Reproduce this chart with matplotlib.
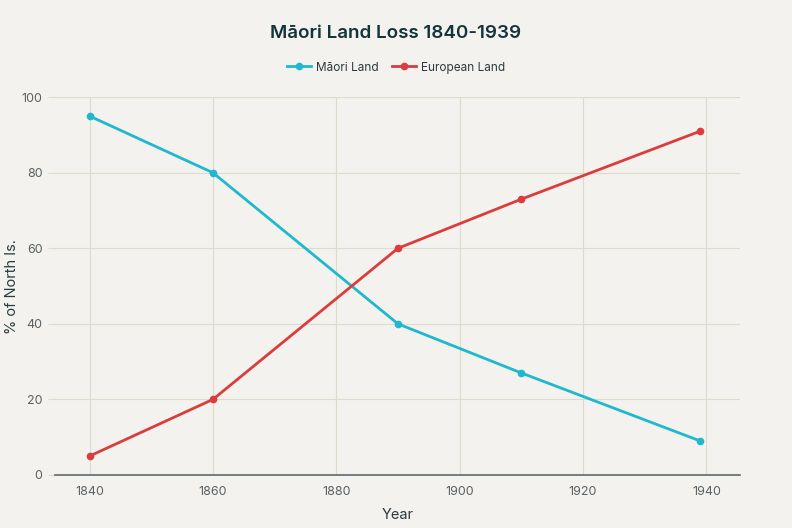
import matplotlib
matplotlib.use("Agg")
import matplotlib.pyplot as plt

# datos
years = [1840, 1860, 1890, 1910, 1939]
maori_land = [95, 80, 40, 27, 9]
european_land = [5, 20, 60, 73, 91]
x_ticks = [1840, 1860, 1880, 1900, 1920, 1940]
y_ticks = [0, 20, 40, 60, 80, 100]

bg = "#f3f2ee"
grid_col = "#dcdccb"
text_col = "#5b6164"

plt.rcParams['font.family'] = ['Inter', 'DejaVu Sans']

fig = plt.figure(figsize=(7.92, 5.28), dpi=100, facecolor=bg)
ax = fig.add_axes([0.0694, 0.1004, 0.8646, 0.7156], facecolor=bg)

ax.plot(years, maori_land, color="#1fb8cd", lw=2, marker="o", ms=4.5, label="Māori Land", zorder=3)
ax.plot(years, european_land, color="#db3c3c", lw=2, marker="o", ms=4.5, label="European Land", zorder=3)

ax.set_xlim(1834.4, 1945.4)
ax.set_ylim(0, 100)
ax.set_xticks(x_ticks)
ax.set_yticks(y_ticks)
ax.grid(True, color=grid_col, lw=0.8)
ax.set_axisbelow(True)

for s in ["top", "right", "left"]:
    ax.spines[s].set_visible(False)
ax.spines["bottom"].set_color("#5e6a6a")
ax.spines["bottom"].set_linewidth(1.2)

ax.tick_params(axis="x", length=0, pad=8, labelsize=9, labelcolor=text_col)
ax.tick_params(axis="y", length=5, color=grid_col, pad=4, labelsize=9, labelcolor=text_col)

ax.set_xlabel("Year", fontsize=10.5, color="#2a3a3e")
ax.set_ylabel("% of North Is.", fontsize=10.5, color="#2a3a3e")
ax.xaxis.set_label_coords(0.5, -0.088)
ax.yaxis.set_label_coords(-0.053, 0.5)

fig.text(0.5, 0.937, "Māori Land Loss 1840-1939", ha="center", va="center",
         fontsize=13.5, fontweight="semibold", color="#13343b")
fig.legend(loc="center", bbox_to_anchor=(0.5, 0.872), ncol=2, frameon=False,
           fontsize=8.5, handlelength=2, columnspacing=1.2, handletextpad=0.4,
           labelcolor="#2a3a3e")

fig.savefig("out.png", dpi=100, facecolor=bg)
